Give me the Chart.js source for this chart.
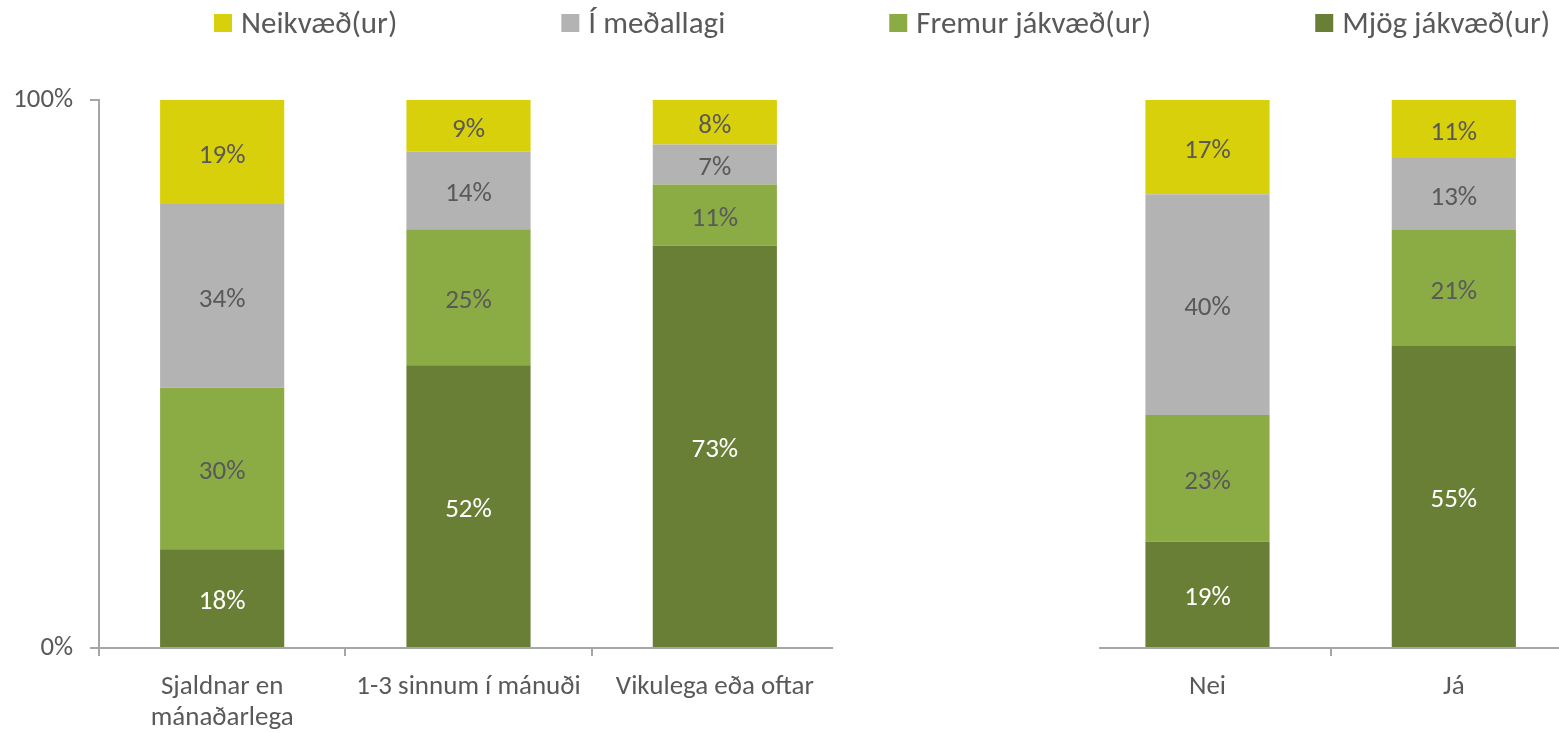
<!DOCTYPE html>
<html>
<head>
<meta charset="utf-8">
<script src="https://cdn.jsdelivr.net/npm/chart.js@4.4.1/dist/chart.umd.min.js"></script>
<style>
  html, body { margin: 0; padding: 0; overflow: hidden; background: #fff; }
  #wrap { position: absolute; left: 0; top: 0; width: 1580px; height: 733px; }
</style>
</head>
<body>
<div id="wrap"><canvas id="c"></canvas></div>
<script>
// ---- data ----
const leftCategories = [['Sjaldnar en', 'mánaðarlega'], '1-3 sinnum í mánuði', 'Vikulega eða oftar'];
const rightCategories = ['Nei', 'Já'];
const seriesNames = ['Mjög jákvæð(ur)', 'Fremur jákvæð(ur)', 'Í meðallagi', 'Neikvæð(ur)'];
const mjogJakvaed   = [18.0, 51.6, 73.4, 19.4, 55.1];
const fremurJakvaed = [29.5, 24.8, 11.2, 23.1, 21.2];
const imedallagi    = [33.5, 14.2,  7.3, 40.3, 13.1];
const neikvaed      = [19.0,  9.4,  8.1, 17.2, 10.6];
const yTicks = [0, 100];

const seriesColors = ['#687F35', '#8BAC45', '#B3B3B3', '#D8D00A'];
const labelColors = ['#FFFFFF', '#595959', '#595959', '#595959'];
const FONT = 'Carlito, Calibri, Lato, sans-serif';
const AXIS = '#A6A6A6';

// gap category between the two panels
const labels = [...leftCategories, '', ...rightCategories];
function withGap(arr) { return [...arr.slice(0, 3), null, ...arr.slice(3)]; }
const seriesValues = [mjogJakvaed, fremurJakvaed, imedallagi, neikvaed];

const datasets = seriesValues.map((vals, i) => ({
  label: seriesNames[i],
  data: withGap(vals),
  backgroundColor: seriesColors[i],
  borderWidth: 0,
  barPercentage: 0.504,
  categoryPercentage: 1.0
}));

const dataLabelPlugin = {
  id: 'dataLabels',
  afterDatasetsDraw(chart) {
    const ctx = chart.ctx;
    ctx.save();
    ctx.font = '27px ' + FONT;
    ctx.textAlign = 'center';
    ctx.textBaseline = 'middle';
    chart.data.datasets.forEach((ds, di) => {
      const meta = chart.getDatasetMeta(di);
      meta.data.forEach((bar, j) => {
        const v = ds.data[j];
        if (v == null) return;
        ctx.fillStyle = labelColors[di];
        ctx.fillText(Math.round(v) + '%', bar.x, (bar.y + bar.base) / 2 + 4);
      });
    });
    ctx.restore();
  }
};

const axisLinePlugin = {
  id: 'axisLines',
  afterDraw(chart) {
    const x = chart.scales.x;
    const ctx = chart.ctx;
    const y0 = chart.chartArea.bottom;
    const cw = x.getPixelForValue(1) - x.getPixelForValue(0);
    ctx.save();
    ctx.strokeStyle = AXIS;
    ctx.lineWidth = 2;
    ctx.beginPath();
    ctx.moveTo(chart.chartArea.left, y0);
    ctx.lineTo(x.getPixelForValue(2) + cw * 0.48, y0);
    ctx.moveTo(x.getPixelForValue(4) - cw * 0.44, y0);
    ctx.lineTo(chart.chartArea.right, y0);
    ctx.stroke();
    ctx.restore();
  }
};

const legendPlugin = {
  id: 'customLegend',
  afterDraw(chart) {
    const ctx = chart.ctx;
    ctx.save();
    ctx.font = '31px ' + FONT;
    ctx.textBaseline = 'middle';
    ctx.textAlign = 'left';
    let xPos = 214;
    const order = [3, 2, 1, 0];
    order.forEach(i => {
      ctx.fillStyle = seriesColors[i];
      ctx.fillRect(xPos, 14, 18, 18);
      ctx.fillStyle = '#595959';
      ctx.fillText(seriesNames[i], xPos + 27, 25);
      xPos += 27 + ctx.measureText(seriesNames[i]).width + 164;
    });
    ctx.restore();
  }
};

new Chart(document.getElementById('c'), {
  type: 'bar',
  data: { labels, datasets },
  options: {
    responsive: true,
    maintainAspectRatio: false,
    animation: false,
    layout: { padding: { top: 100, right: 3, bottom: 0, left: 0 } },
    plugins: { legend: { display: false }, tooltip: { enabled: false } },
    scales: {
      x: {
        stacked: true,
        afterFit(s) { s.height = 85; },
        border: { display: false },
        grid: {
          offset: true,
          drawOnChartArea: false,
          drawTicks: true,
          tickLength: 8,
          lineWidth: 2,
          color: (c) => (c.index === 3 || c.index === 4) ? 'rgba(0,0,0,0)' : AXIS
        },
        ticks: {
          autoSkip: false,
          maxRotation: 0,
          padding: 16,
          color: '#595959',
          font: { family: FONT, size: 27, lineHeight: 1.15 }
        }
      },
      y: {
        stacked: true,
        min: 0,
        max: 100,
        afterFit(s) { s.width = 99; },
        afterBuildTicks(s) { s.ticks = yTicks.map(v => ({ value: v })); },
        border: { display: true, color: AXIS, width: 2 },
        grid: { drawOnChartArea: false, drawTicks: true, tickLength: 9, color: AXIS, lineWidth: 2 },
        ticks: {
          padding: 17,
          color: '#595959',
          font: { family: FONT, size: 26.7 },
          callback: (v) => v + '%'
        }
      }
    }
  },
  plugins: [dataLabelPlugin, axisLinePlugin, legendPlugin]
});
</script>
</body>
</html>
